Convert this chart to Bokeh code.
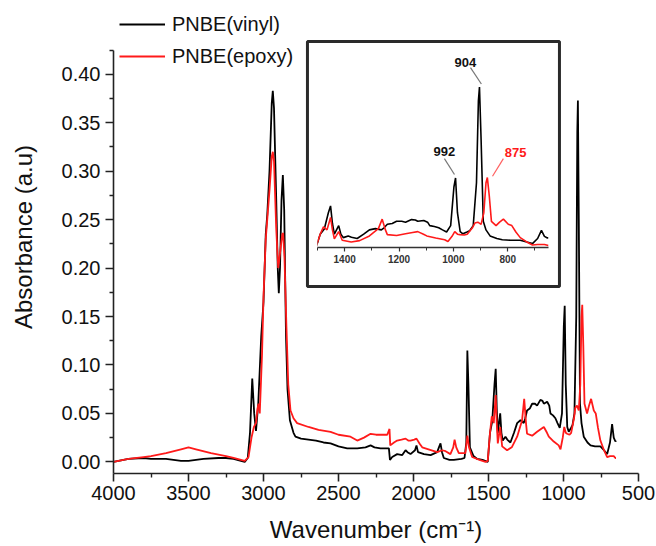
from bokeh.plotting import figure
from bokeh.layouts import column
from bokeh.models import (Range1d, FixedTicker, Legend, LegendItem, BoxAnnotation,
                          ColumnDataSource, PrintfTickFormatter)
from bokeh.core.properties import value
from bokeh.embed import file_html
from bokeh.resources import INLINE

FONT = "Liberation Sans"

# ---------------- data ----------------
vinyl_wn = [4000, 3900, 3800, 3750, 3650, 3550, 3500, 3400, 3300, 3250, 3200, 3150, 3125,
            3105, 3090, 3075, 3062, 3050, 3035, 3015, 3000, 2985, 2975, 2960, 2945, 2938,
            2930, 2915, 2905, 2898, 2890, 2880, 2871, 2862, 2850, 2840, 2824, 2800, 2787,
            2750, 2700, 2650, 2600, 2553, 2500, 2442, 2375, 2320, 2286, 2260, 2220, 2164,
            2157, 2142, 2109, 2075, 2053, 2040, 2020, 1990, 1980, 1970, 1930, 1886, 1842,
            1828, 1820, 1810, 1798, 1760, 1731, 1680, 1660, 1648, 1641, 1634, 1624, 1600,
            1575, 1540, 1505, 1490, 1475, 1460, 1452, 1445, 1438, 1422, 1414, 1405, 1387,
            1375, 1354, 1330, 1309, 1287, 1265, 1255, 1243, 1225, 1209, 1190, 1176, 1154,
            1140, 1131, 1109, 1095, 1087, 1070, 1054, 1040, 1025, 1010, 998, 992, 985, 975,
            965, 950, 940, 927, 915, 908, 904, 898, 890, 880, 865, 840, 820, 790, 754, 730,
            709, 690, 676, 665, 654, 650]
vinyl_abs = [0.000, 0.003, 0.004, 0.003, 0.003, 0.001, 0.001, 0.003, 0.004, 0.004, 0.003, 0.001, 0.000,
             0.004, 0.030, 0.086, 0.050, 0.032, 0.060, 0.130, 0.165, 0.235, 0.255, 0.300, 0.370, 0.383,
             0.365, 0.270, 0.200, 0.174, 0.200, 0.270, 0.296, 0.260, 0.130, 0.075, 0.043, 0.030, 0.026,
             0.024, 0.023, 0.022, 0.020, 0.019, 0.016, 0.014, 0.014, 0.015, 0.017, 0.015, 0.014, 0.014,
             0.002, 0.005, 0.008, 0.007, 0.012, 0.010, 0.008, 0.012, 0.017, 0.010, 0.008, 0.007, 0.010,
             0.016, 0.019, 0.010, 0.004, 0.002, 0.002, 0.003, 0.004, 0.020, 0.115, 0.080, 0.015, 0.006,
             0.003, 0.002, 0.000, 0.030, 0.042, 0.080, 0.096, 0.055, 0.030, 0.050, 0.030, 0.022, 0.026,
             0.023, 0.020, 0.030, 0.040, 0.043, 0.040, 0.045, 0.053, 0.055, 0.060, 0.060, 0.058, 0.064,
             0.063, 0.060, 0.062, 0.058, 0.050, 0.048, 0.045, 0.040, 0.035, 0.050, 0.140, 0.161, 0.080, 0.036,
             0.031, 0.035, 0.038, 0.050, 0.150, 0.340, 0.373, 0.250, 0.060, 0.040, 0.026, 0.020, 0.017, 0.016, 0.016, 0.012,
             0.008, 0.020, 0.039, 0.025, 0.021, 0.022]

epoxy_wn = [4000, 3900, 3800, 3750, 3650, 3550, 3500, 3450, 3350, 3250, 3200, 3150, 3125,
            3100, 3080, 3064, 3050, 3040, 3033, 3025, 3010, 3000, 2985, 2975, 2960, 2945, 2938,
            2930, 2915, 2902, 2890, 2875, 2869, 2860, 2847, 2835, 2820, 2800, 2776, 2700, 2633,
            2553, 2500, 2420, 2375, 2330, 2286, 2250, 2175, 2160, 2155, 2130, 2109, 2080, 2053,
            2035, 2020, 1995, 1980, 1960, 1942, 1900, 1842, 1809, 1786, 1754, 1735, 1726, 1715,
            1698, 1654, 1641, 1630, 1609, 1560, 1520, 1505, 1490, 1478, 1465, 1452, 1445, 1438,
            1422, 1409, 1376, 1345, 1309, 1276, 1262, 1250, 1243, 1209, 1176, 1150, 1131, 1110,
            1098, 1065, 1032, 1020, 1005, 995, 985, 976, 960, 949, 930, 921, 910, 898, 888, 880,
            875, 868, 860, 843, 830, 816, 798, 785, 770, 754, 730, 709, 690, 665, 654, 650]
epoxy_abs = [0.000, 0.003, 0.005, 0.006, 0.009, 0.013, 0.015, 0.013, 0.009, 0.006, 0.004, 0.002, 0.001,
             0.005, 0.025, 0.036, 0.040, 0.055, 0.060, 0.050, 0.110, 0.170, 0.230, 0.250, 0.280, 0.315, 0.320,
             0.310, 0.240, 0.200, 0.215, 0.235, 0.236, 0.210, 0.139, 0.080, 0.053, 0.045, 0.040, 0.036, 0.033,
             0.031, 0.028, 0.026, 0.022, 0.025, 0.029, 0.028, 0.028, 0.034, 0.017, 0.020, 0.022, 0.023, 0.024,
             0.022, 0.022, 0.023, 0.024, 0.019, 0.015, 0.013, 0.010, 0.012, 0.011, 0.008, 0.015, 0.023, 0.015,
             0.009, 0.009, 0.027, 0.015, 0.005, 0.002, 0.000, 0.001, 0.030, 0.047, 0.040, 0.069, 0.040, 0.019,
             0.036, 0.016, 0.012, 0.015, 0.026, 0.043, 0.065, 0.040, 0.029, 0.027, 0.031, 0.034, 0.036, 0.030,
             0.026, 0.021, 0.017, 0.013, 0.025, 0.036, 0.030, 0.029, 0.028, 0.030, 0.045, 0.056, 0.058, 0.053, 0.080, 0.150,
             0.162, 0.120, 0.060, 0.050, 0.058, 0.065, 0.053, 0.050, 0.035, 0.022, 0.012, 0.005, 0.006, 0.006, 0.004, 0.004]

x_ticks = [4000, 3500, 3000, 2500, 2000, 1500, 1000, 500]
x_minor = [3750, 3250, 2750, 2250, 1750, 1250, 750]
y_ticks = [0.00, 0.05, 0.10, 0.15, 0.20, 0.25, 0.30, 0.35, 0.40]
y_minor = [0.025, 0.075, 0.125, 0.175, 0.225, 0.275, 0.325, 0.375, 0.425]
y_axis_bounds = (-0.012, 0.425)

inset_ticks = [1400, 1200, 1000, 800]
inset_minor = [1500, 1300, 1100, 900, 700]

# peak annotations in the inset: label, text position, leader line start/end
peak_labels = ["904", "992", "875"]
peak_colors = ["#111111", "#111111", "#ff1a1a"]
peak_line_colors = ["#777777", "#777777", "#ff6060"]
label_x = [956, 1033, 771]
label_y = [0.429, 0.223, 0.221]
lead_x0 = [937, 1033, 816]
lead_y0 = [0.418, 0.206, 0.206]
lead_x1 = [897, 996, 856]
lead_y1 = [0.380, 0.169, 0.165]

BLACK = "#000000"
RED = "#ff1a1a"

# ---------------- main figure ----------------
p = figure(width=656, height=546, output_backend="svg", toolbar_location=None,
           x_range=Range1d(4000, 500), y_range=Range1d(-0.012, 0.4761),
           min_border_left=113, min_border_right=18, min_border_top=0, min_border_bottom=73)
p.frame_align = False
p.grid.visible = False
p.outline_line_color = None
p.background_fill_color = "white"
p.border_fill_color = "white"

r_v = p.line(vinyl_wn, vinyl_abs, line_color=BLACK, line_width=1.8)
r_e = p.line(epoxy_wn, epoxy_abs, line_color=RED, line_width=1.8)

for ax in (p.xaxis[0], p.yaxis[0]):
    ax.axis_line_width = 1.6
    ax.axis_line_color = "#222222"
    ax.major_tick_line_width = 1.6
    ax.minor_tick_line_width = 1.4
    ax.major_tick_line_color = "#222222"
    ax.minor_tick_line_color = "#222222"
    ax.major_tick_in = 0
    ax.major_tick_out = 8
    ax.minor_tick_in = 0
    ax.minor_tick_out = 4
    ax.major_label_text_font = FONT
    ax.major_label_text_font_size = "20px"
    ax.major_label_text_color = "#111111"
    ax.axis_label_text_font = FONT
    ax.axis_label_text_font_size = "24px"
    ax.axis_label_text_font_style = "normal"
    ax.axis_label_text_color = "#111111"

p.xaxis.ticker = FixedTicker(ticks=x_ticks, minor_ticks=x_minor)
p.yaxis.ticker = FixedTicker(ticks=y_ticks, minor_ticks=y_minor)
p.yaxis.bounds = y_axis_bounds
p.yaxis.formatter = PrintfTickFormatter(format="%.2f")
p.xaxis.major_label_standoff = 4
p.yaxis.major_label_standoff = 5
p.xaxis.axis_label = "Wavenumber (cm\u207b\u00b9)"
p.yaxis.axis_label = "Absorbance (a.u)"
p.xaxis.axis_label_standoff = 13
p.yaxis.axis_label_standoff = 22

legend = Legend(items=[LegendItem(label="PNBE(vinyl)", renderers=[r_v]),
                       LegendItem(label="PNBE(epoxy)", renderers=[r_e])],
                location=(6, 405), orientation="vertical",
                label_text_font=FONT, label_text_font_size="20px", label_text_color="#111111",
                glyph_width=46, glyph_height=24, label_height=24, label_standoff=7,
                spacing=8, padding=0, margin=0,
                border_line_alpha=0, background_fill_alpha=0)
p.add_layout(legend, "center")

# frame of the inset (drawn on the main plot, in its data space)
inset_box = BoxAnnotation(left=2707, right=1027, top=0.4338, bottom=0.181,
                          fill_alpha=0, line_color="#2a2a2a", line_alpha=1.0, line_width=3)
p.add_layout(inset_box)

# ---------------- inset ----------------
inset = figure(width=248, height=241, output_backend="svg", toolbar_location=None,
               x_range=Range1d(1500, 650), y_range=Range1d(-0.001, 0.458),
               y_axis_location=None,
               min_border_left=8, min_border_right=9, min_border_top=7, min_border_bottom=37)
inset.frame_align = False
inset.grid.visible = False
inset.outline_line_color = None
inset.background_fill_color = "white"
inset.border_fill_color = "white"

inset.line(vinyl_wn, vinyl_abs, line_color=BLACK, line_width=1.6)
inset.line(epoxy_wn, epoxy_abs, line_color=RED, line_width=1.6)

ia = inset.xaxis[0]
ia.ticker = FixedTicker(ticks=inset_ticks, minor_ticks=inset_minor)
ia.axis_line_width = 1.3
ia.axis_line_color = "#333333"
ia.major_tick_line_color = "#333333"
ia.minor_tick_line_color = "#333333"
ia.major_tick_line_width = 1.2
ia.minor_tick_line_width = 1.0
ia.major_tick_in = 0
ia.major_tick_out = 4
ia.minor_tick_in = 0
ia.minor_tick_out = 3
ia.major_label_standoff = 3
ia.major_label_text_font = FONT
ia.major_label_text_font_size = "10px"
ia.major_label_text_font_style = "bold"
ia.major_label_text_color = "#333333"

ann = ColumnDataSource(dict(label=peak_labels, color=peak_colors, lcolor=peak_line_colors,
                            lx=label_x, ly=label_y, x0=lead_x0, y0=lead_y0, x1=lead_x1, y1=lead_y1))
inset.segment(x0="x0", y0="y0", x1="x1", y1="y1", line_color="lcolor", line_width=1.2, source=ann)
inset.text(x="lx", y="ly", text="label", text_color="color", text_align="center",
           text_baseline="middle", text_font=value(FONT), text_font_size="13px",
           text_font_style="bold", source=ann)

inset.styles = {"position": "absolute", "left": "309px", "top": "43px", "z-index": "5"}

layout = column(p, inset)
layout.styles = {"position": "relative"}

open("out.html", "w").write(file_html(layout, INLINE))
